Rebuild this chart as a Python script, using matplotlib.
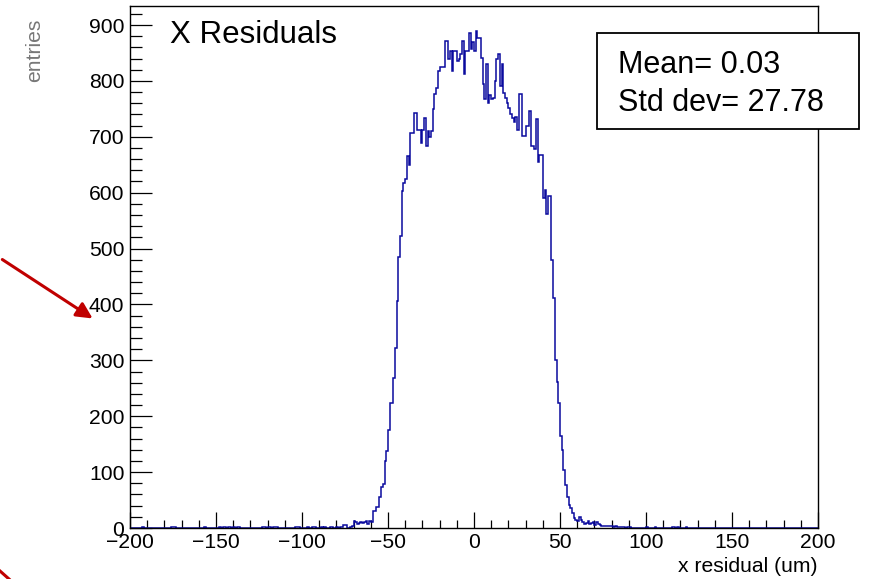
import numpy as np
import matplotlib
matplotlib.use("Agg")
import matplotlib.pyplot as plt
from matplotlib.ticker import MultipleLocator
from matplotlib.patches import FancyArrowPatch, Rectangle
from matplotlib.lines import Line2D

plt.rcParams['font.family'] = ['Liberation Sans', 'DejaVu Sans']

# ---- data ----
x_min, x_max = -200, 200
bin_width = 1

# counts for bins [-200,-199) ... [-81,-80)
counts_left_tail = [
    0, 0, 0, 0, 0, 0, 0, 1, 0, 0,   # -200..-191
    0, 0, 0, 0, 0, 0, 0, 0, 0, 0,   # -190..-181
    0, 0, 0, 0, 1, 1, 1, 0, 0, 0,   # -180..-171
    0, 0, 0, 0, 0, 0, 0, 0, 0, 0,   # -170..-161
    0, 0, 0, 1, 0, 0, 0, 0, 0, 0,   # -160..-151
    0, 0, 1, 0, 1, 1, 0, 1, 1, 0,   # -150..-141
    1, 0, 1, 1, 0, 0, 0, 0, 0, 0,   # -140..-131
    0, 0, 0, 0, 0, 0, 0, 1, 1, 0,   # -130..-121
    1, 1, 0, 1, 1, 1, 0, 0, 0, 0,   # -120..-111
    0, 0, 0, 0, 0, 0, 1, 1, 1, 0,   # -110..-101
    0, 0, 0, 1, 0, 0, 1, 1, 0, 0,   # -100..-91
    0, 1, 0, 2, 0, 0, 1, 2, 0, 0,   # -90..-81
]
# counts for bins [-80,-79) ... [79,80)
counts_core = [
    2, 0, 2, 2, 6, 6, 0, 0, 2, 4,                 # -80..-71
    12, 10, 8, 9, 10, 9, 10, 12, 8, 13,           # -70..-61
    10, 31, 31, 38, 38, 55, 74, 79, 119, 137,     # -60..-51
    176, 224, 224, 269, 322, 406, 484, 522, 603, 618,  # -50..-41
    625, 665, 650, 707, 707, 743, 743, 713, 713, 689,  # -40..-31
    713, 733, 683, 710, 700, 710, 749, 776, 788, 818,  # -30..-21
    824, 824, 824, 871, 871, 839, 854, 818, 854, 854,  # -20..-11
    836, 840, 848, 871, 812, 854, 854, 886, 857, 869,  # -10..-1
    854, 890, 877, 877, 841, 794, 767, 830, 761, 775,  # 0..9
    768, 770, 800, 840, 848, 790, 830, 779, 770, 760,  # 10..19
    752, 740, 734, 726, 735, 713, 776, 776, 701, 701,  # 20..29
    719, 719, 746, 683, 683, 678, 731, 654, 668, 668,  # 30..39
    591, 604, 561, 594, 594, 480, 412, 301, 262, 224,  # 40..49
    164, 140, 104, 77, 56, 41, 35, 26, 17, 15,         # 50..59
    12, 20, 15, 10, 8, 9, 12, 8, 9, 10,                # 60..69
    5, 10, 7, 5, 4, 3, 3, 4, 3, 3,                     # 70..79
]
# counts for bins [80,81) ... [199,200)
counts_right_tail = [
    3, 2, 3, 2, 2, 1, 2, 1, 0, 2,   # 80..89
    1, 0, 0, 0, 0, 0, 0, 0, 0, 0,   # 90..99
    1, 0, 0, 0, 0, 1, 0, 0, 0, 0,   # 100..109
    0, 0, 0, 0, 0, 1, 1, 0, 1, 0,   # 110..119
    0, 0, 0, 1, 0, 0, 0, 0, 0, 0,   # 120..129
    0, 0, 0, 0, 0, 0, 0, 0, 0, 0,   # 130..139
    0, 0, 0, 0, 0, 0, 0, 0, 0, 0,   # 140..149
    0, 0, 0, 0, 0, 0, 0, 0, 0, 0,   # 150..159
    0, 0, 0, 0, 0, 0, 0, 0, 0, 0,   # 160..169
    0, 0, 0, 0, 0, 0, 0, 0, 0, 0,   # 170..179
    0, 0, 0, 0, 0, 0, 0, 0, 0, 0,   # 180..189
    0, 0, 0, 0, 0, 0, 0, 0, 0, 0,   # 190..199
]

title_text = "X Residuals"
stats_lines = ["Mean= 0.03", "Std dev= 27.78"]
x_label = "x residual (um)"
y_label = "entries"
y_top = 934

counts = np.array(counts_left_tail + counts_core + counts_right_tail, dtype=float)
edges = np.arange(x_min, x_max + bin_width, bin_width)

# ---- figure ----
W, H = 869, 579
fig = plt.figure(figsize=(W / 100, H / 100), dpi=100)
ax = fig.add_axes([130 / W, (H - 528) / H, (818 - 130) / W, (528 - 6) / H])

ax.stairs(counts, edges, color='#0a0a9e', linewidth=1.1, zorder=2)

ax.set_xlim(x_min, x_max)
ax.set_ylim(0, y_top)

ax.xaxis.set_major_locator(MultipleLocator(50))
ax.xaxis.set_minor_locator(MultipleLocator(10))
ax.yaxis.set_major_locator(MultipleLocator(100))
ax.yaxis.set_minor_locator(MultipleLocator(20))

ax.tick_params(axis='x', which='major', direction='in', length=11.3, width=0.9,
               labelsize=15.2, pad=3.4, top=False)
ax.tick_params(axis='x', which='minor', direction='in', length=6, width=0.9, top=False)
ax.tick_params(axis='y', which='major', direction='in', length=15.6, width=0.9,
               labelsize=15.2, pad=4.0, right=False)
ax.tick_params(axis='y', which='minor', direction='in', length=8.4, width=0.9, right=False)

for s in ax.spines.values():
    s.set_linewidth(1.0)
    s.set_color('black')

# axis titles
fig.text(818 / W, 1 - 566 / H, x_label, ha='right', va='center', fontsize=15.2)
fig.text(35 / W, 1 - 19 / H, y_label, ha='center', va='top', rotation=90,
         fontsize=15.2, color='#777777')

# title inside
fig.text(170 / W, 1 - 43 / H, title_text, ha='left', va='baseline', fontsize=22.5)

# stats box
box = Rectangle((597 / W, 1 - 129 / H), (859 - 597) / W, (129 - 33) / H,
                transform=fig.transFigure, facecolor='white', edgecolor='black',
                linewidth=1.3, zorder=5)
fig.add_artist(box)
fig.text(618 / W, 1 - 73 / H, stats_lines[0], ha='left', va='baseline',
         fontsize=22, zorder=6)
fig.text(618 / W, 1 - 111 / H, stats_lines[1], ha='left', va='baseline',
         fontsize=22, zorder=6)

# red annotation arrows
arr = FancyArrowPatch((0 / W, 1 - 258 / H), (95 / W, 1 - 320 / H),
                      transform=fig.transFigure, arrowstyle='-|>',
                      mutation_scale=24, color='#c00000', linewidth=2.2, zorder=7)
fig.add_artist(arr)
fig.add_artist(Line2D([0 / W, 9 / W], [1 - 571 / H, 1 - 579 / H],
                      transform=fig.transFigure, color='#c00000', linewidth=2.2))

fig.savefig("out.png", dpi=100)
